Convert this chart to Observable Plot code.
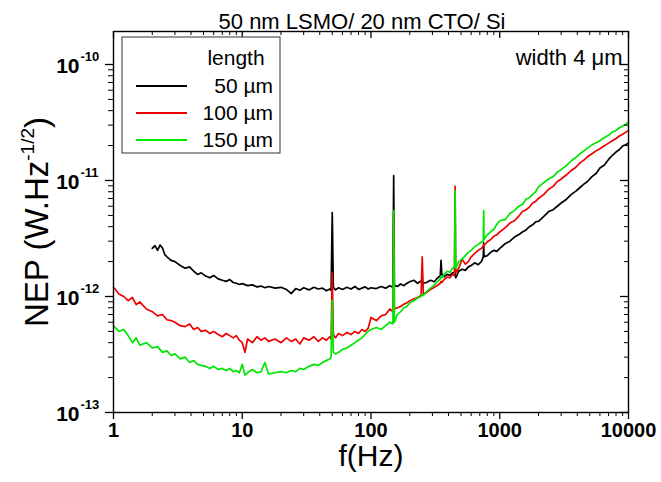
<!DOCTYPE html>
<html><head><meta charset="utf-8">
<script src="https://cdn.jsdelivr.net/npm/d3@7"></script>
<script src="https://cdn.jsdelivr.net/npm/@observablehq/plot@0.6"></script>
<style>
body{margin:0;background:#fff;}
#chart{width:661px;height:482px;}
</style></head><body><div id="chart"></div>
<script>
// NEP values in units of 1e-12 W.Hz^-1/2, frequency in Hz
const black50 = [[2,2.6],[2.1,2.75],[2.2,2.5],[2.3,2.78],[2.4,2.62],[2.5,2.3],[2.6,2.2],[2.8,2.05],[3,2.0],[3.3,1.85],[3.6,1.75],[3.9,1.8],[4.2,1.65],[4.5,1.55],[4.8,1.6],[5.2,1.5],[5.6,1.45],[6,1.52],[6.5,1.42],[7,1.38],[7.5,1.35],[8,1.4],[8.5,1.32],[9,1.3],[9.5,1.27],[10,1.29],[11,1.24],[12,1.26],[13,1.21],[14,1.23],[15,1.19],[16,1.22],[18,1.18],[20,1.2],[22,1.15],[24,1.06],[26,1.17],[28,1.13],[30,1.19],[33,1.14],[36,1.2],[39,1.16],[42,1.18],[45,1.12],[48,1.16],[49,1.13],[50,5.3],[51,1.2],[53,1.14],[56,1.19],[60,1.15],[65,1.2],[70,1.16],[75,1.22],[80,1.15],[85,1.18],[90,1.21],[95,1.16],[100,1.19],[110,1.17],[120,1.22],[130,1.18],[140,1.24],[148,1.2],[150,11],[152,1.25],[160,1.22],[170,1.28],[180,1.24],[190,1.3],[200,1.34],[215,1.38],[230,1.3],[245,1.36],[250,1.33],[255,1.3],[270,1.32],[290,1.38],[310,1.34],[330,1.45],[345,1.5],[350,2.05],[355,1.55],[370,1.48],[390,1.55],[410,1.52],[430,1.6],[445,1.62],[450,1.55],[455,1.45],[480,1.65],[510,1.72],[540,1.68],[570,1.8],[600,1.85],[640,1.95],[680,1.88],[720,2.0],[745,2.2],[750,2.9],[755,2.2],[800,2.25],[850,2.4],[900,2.5],[950,2.45],[1000,2.6],[1100,2.85],[1200,3.0],[1300,3.25],[1400,3.4],[1500,3.6],[1600,3.75],[1700,4.0],[1800,4.15],[1900,4.4],[2000,4.45],[2200,4.9],[2400,5.4],[2600,5.6],[2800,6.0],[3000,6.4],[3300,6.9],[3600,7.6],[3900,8.1],[4200,8.7],[4500,9.3],[4800,9.8],[5200,10.8],[5600,11.5],[6000,12.8],[6500,13.6],[7000,15.2],[7500,16.5],[8000,17.6],[8500,18.5],[9000,19.8],[9500,20.3],[10000,21]];

const red100 = [[1,1.2],[1.1,1.05],[1.2,1.0],[1.3,0.92],[1.4,0.98],[1.5,0.85],[1.6,0.9],[1.8,0.78],[2,0.74],[2.2,0.68],[2.4,0.7],[2.6,0.63],[2.8,0.62],[3,0.6],[3.3,0.56],[3.6,0.55],[3.9,0.58],[4.2,0.52],[4.5,0.54],[4.8,0.5],[5.2,0.51],[5.6,0.48],[6,0.5],[6.5,0.47],[7,0.45],[7.5,0.48],[8,0.46],[8.5,0.44],[9,0.46],[9.5,0.42],[10,0.4],[10.5,0.33],[11,0.43],[12,0.4],[13,0.45],[14,0.42],[15,0.44],[16,0.41],[18,0.43],[20,0.4],[22,0.44],[24,0.41],[26,0.43],[28,0.39],[30,0.44],[33,0.42],[36,0.45],[39,0.41],[42,0.44],[45,0.42],[48,0.45],[49,0.43],[50,1.6],[51,0.47],[53,0.44],[56,0.48],[60,0.46],[65,0.49],[70,0.47],[75,0.5],[80,0.48],[85,0.52],[90,0.5],[95,0.53],[100,0.66],[110,0.62],[120,0.68],[130,0.7],[140,0.78],[148,0.74],[150,5.0],[152,0.78],[160,0.8],[170,0.82],[180,0.86],[190,0.88],[200,0.92],[215,0.95],[230,0.98],[245,1.02],[250,2.2],[255,1.05],[270,1.08],[290,1.15],[310,1.2],[330,1.25],[345,1.3],[350,1.35],[355,1.32],[370,1.4],[390,1.47],[410,1.45],[430,1.55],[445,1.52],[450,8.9],[455,1.6],[480,1.75],[510,2.1],[540,1.9],[570,2.0],[600,2.2],[640,2.35],[680,2.5],[720,2.6],[745,2.7],[750,2.8],[755,2.75],[800,2.95],[850,3.1],[900,3.3],[950,3.4],[1000,3.6],[1100,3.9],[1200,4.3],[1300,4.5],[1400,4.9],[1500,5.4],[1600,5.6],[1700,5.9],[1800,6.4],[1900,6.6],[2000,7.0],[2200,7.6],[2400,8.4],[2600,8.9],[2800,9.8],[3000,10.3],[3300,11.2],[3600,12.2],[3900,13.0],[4200,14.2],[4500,15.0],[4800,16.0],[5200,17.0],[5600,18.0],[6000,18.8],[6500,19.9],[7000,21.0],[7500,22.0],[8000,23.0],[8500,24.2],[9000,25.0],[9500,26.0],[10000,27]];

const green150 = [[1,0.56],[1.1,0.5],[1.2,0.52],[1.3,0.46],[1.4,0.4],[1.5,0.44],[1.6,0.38],[1.8,0.4],[2,0.36],[2.2,0.37],[2.4,0.33],[2.6,0.34],[2.8,0.31],[3,0.32],[3.3,0.29],[3.6,0.3],[3.9,0.27],[4.2,0.28],[4.5,0.26],[4.8,0.255],[5.2,0.25],[5.6,0.24],[6,0.25],[6.5,0.235],[7,0.24],[7.5,0.23],[8,0.24],[8.5,0.225],[9,0.23],[9.5,0.22],[10,0.26],[10.5,0.21],[11,0.22],[12,0.235],[13,0.22],[14,0.225],[15,0.27],[16,0.215],[18,0.22],[20,0.225],[22,0.22],[24,0.23],[26,0.225],[28,0.24],[30,0.235],[33,0.25],[36,0.26],[39,0.255],[42,0.27],[45,0.28],[48,0.29],[49,0.3],[50,0.93],[51,0.33],[53,0.32],[56,0.33],[60,0.35],[65,0.36],[70,0.38],[75,0.4],[80,0.42],[85,0.44],[90,0.47],[95,0.5],[100,0.52],[110,0.54],[120,0.52],[130,0.56],[140,0.6],[148,0.58],[150,5.5],[152,0.6],[160,0.7],[170,0.74],[180,0.8],[190,0.82],[200,0.88],[215,0.92],[230,0.97],[245,1.0],[250,1.05],[255,1.02],[270,1.1],[290,1.18],[310,1.25],[330,1.35],[345,1.42],[350,1.5],[355,1.45],[370,1.55],[390,1.65],[410,1.62],[430,1.75],[445,1.8],[450,8.2],[455,1.75],[480,2.0],[510,2.1],[540,2.25],[570,2.4],[600,2.5],[640,2.7],[680,2.8],[720,2.95],[745,3.0],[750,5.5],[755,3.1],[800,3.4],[850,3.6],[900,3.8],[950,4.2],[1000,4.5],[1100,4.6],[1200,5.2],[1300,5.5],[1400,6.0],[1500,6.2],[1600,6.9],[1700,7.1],[1800,7.6],[1900,8.0],[2000,8.8],[2200,9.6],[2400,10.3],[2600,10.8],[2800,11.8],[3000,12.4],[3300,13.5],[3600,14.8],[3900,15.8],[4200,17.0],[4500,18.0],[4800,19.0],[5200,20.2],[5600,21.2],[6000,22.0],[6500,23.5],[7000,24.5],[7500,26.2],[8000,27.0],[8500,28.5],[9000,29.5],[9500,30.5],[10000,32]];

const seriesLabels = ["50 µm", "100 µm", "150 µm"];
const seriesColors = ["#000000", "#ee0000", "#00e600"];
const legendTitle = "length";
const titleText = "50 nm LSMO/ 20 nm CTO/ Si";
const noteText = "width 4 μm";
const xTitle = "f(Hz)";

const xMajor = [1, 10, 100, 1000, 10000];
const xMajorLabels = ["1", "10", "100", "1000", "10000"];
const xMinor = [2,3,4,5,6,7,8,9,20,30,40,50,60,70,80,90,200,300,400,500,600,700,800,900,2000,3000,4000,5000,6000,7000,8000,9000];
const yMajor = [1e-13, 1e-12, 1e-11, 1e-10];
const yMajorExp = ["-13", "-12", "-11", "-10"];
const yMinor = [2e-13,3e-13,4e-13,5e-13,6e-13,7e-13,8e-13,9e-13,2e-12,3e-12,4e-12,5e-12,6e-12,7e-12,8e-12,9e-12,2e-11,3e-11,4e-11,5e-11,6e-11,7e-11,8e-11,9e-11];

const UNIT = 1e-12;
const toRows = (arr) => arr.map(([f, v]) => ({f, v: v * UNIT}));
const allSeries = [black50, red100, green150].map(toRows);

const W = 661, H = 482, ML = 113, MR = 33, MT = 31, MB = 70;
const PW = W - ML - MR, PH = H - MT - MB;
const FONT = "'Liberation Sans', Arial, Helvetica, sans-serif";

const yTickLab = yMajor.map((v, i) => ({v, e: yMajorExp[i]}));
const xTickLab = xMajor.map((f, i) => ({f, t: xMajorLabels[i]}));

const marks = [];
allSeries.forEach((rows, i) => {
  marks.push(Plot.line(rows, {x: "f", y: "v", stroke: seriesColors[i], strokeWidth: 1.7}));
});
marks.push(
  Plot.frame({stroke: "#000", strokeWidth: 1.4}),
  Plot.tickY(yMajor, {y: d => d, insetLeft: -8, insetRight: PW, stroke: "#000", strokeWidth: 1.3}),
  Plot.tickY(yMinor, {y: d => d, insetLeft: -5, insetRight: PW, stroke: "#000", strokeWidth: 1}),
  Plot.tickY(yMajor, {y: d => d, insetLeft: PW - 8, insetRight: 0, stroke: "#000", strokeWidth: 1.3}),
  Plot.tickY(yMinor, {y: d => d, insetLeft: PW - 4, insetRight: 0, stroke: "#000", strokeWidth: 1}),
  Plot.tickX(xMajor, {x: d => d, insetTop: PH, insetBottom: -7, stroke: "#000", strokeWidth: 1.3}),
  Plot.tickX(xMinor, {x: d => d, insetTop: PH, insetBottom: -4, stroke: "#000", strokeWidth: 1}),
  Plot.tickX(xMajor, {x: d => d, insetTop: 0, insetBottom: PH - 7, stroke: "#000", strokeWidth: 1.3}),
  Plot.tickX(xMinor, {x: d => d, insetTop: 0, insetBottom: PH - 4, stroke: "#000", strokeWidth: 1}),
  Plot.text(yTickLab, {y: "v", text: () => "10", frameAnchor: "left", dx: -34, dy: 2, textAnchor: "end", fontSize: 21, fontWeight: "bold", fill: "#000"}),
  Plot.text(yTickLab, {y: "v", text: "e", frameAnchor: "left", dx: -33, dy: -8, textAnchor: "start", fontSize: 13, fontWeight: "bold", fill: "#000"}),
  Plot.text(xTickLab, {x: "f", text: "t", frameAnchor: "bottom", dy: 24, fontSize: 20, fontWeight: "bold", fill: "#000"}),
  Plot.text([xTitle], {text: d => d, frameAnchor: "bottom", dy: 53, fontSize: 30, fill: "#000"}),
  Plot.text([titleText], {text: d => d, frameAnchor: "top", dx: -9, dy: -18, fontSize: 22, fill: "#000"}),
  Plot.text([noteText], {text: d => d, frameAnchor: "top-right", dx: -6, dy: 18, textAnchor: "end", fontSize: 22, fill: "#000"})
);

const chart = Plot.plot({
  width: W, height: H,
  marginLeft: ML, marginRight: MR, marginTop: MT, marginBottom: MB,
  x: {type: "log", domain: [1, 10000], axis: null},
  y: {type: "log", domain: [1e-13, 1.925e-10], axis: null},
  style: {fontFamily: FONT, background: "#fff", overflow: "visible"},
  marks
});

const svg = d3.select(chart);
const lg = svg.append("g").attr("font-family", FONT).attr("font-size", 21);
lg.append("rect").attr("x", 122).attr("y", 37).attr("width", 158).attr("height", 116)
  .attr("fill", "#fff").attr("stroke", "#333").attr("stroke-width", 1);
lg.append("text").attr("x", 236).attr("y", 58).attr("dy", "0.35em").attr("text-anchor", "middle").text(legendTitle);
seriesLabels.forEach((lab, i) => {
  const y = 86 + i * 27;
  lg.append("line").attr("x1", 136).attr("x2", 187).attr("y1", y).attr("y2", y)
    .attr("stroke", seriesColors[i]).attr("stroke-width", 2);
  lg.append("text").attr("x", 273).attr("y", y).attr("dy", "0.35em").attr("text-anchor", "end").text(lab);
});
const yt = svg.append("text").attr("font-family", FONT).attr("font-size", 33)
  .attr("text-anchor", "middle").attr("transform", "translate(48,222) rotate(-90)");
yt.append("tspan").text("NEP (W.Hz");
yt.append("tspan").attr("dy", -14).attr("font-size", 19).text("-1/2");
yt.append("tspan").attr("dy", 14).text(")");

document.getElementById("chart").appendChild(chart);
</script>
</body></html>
